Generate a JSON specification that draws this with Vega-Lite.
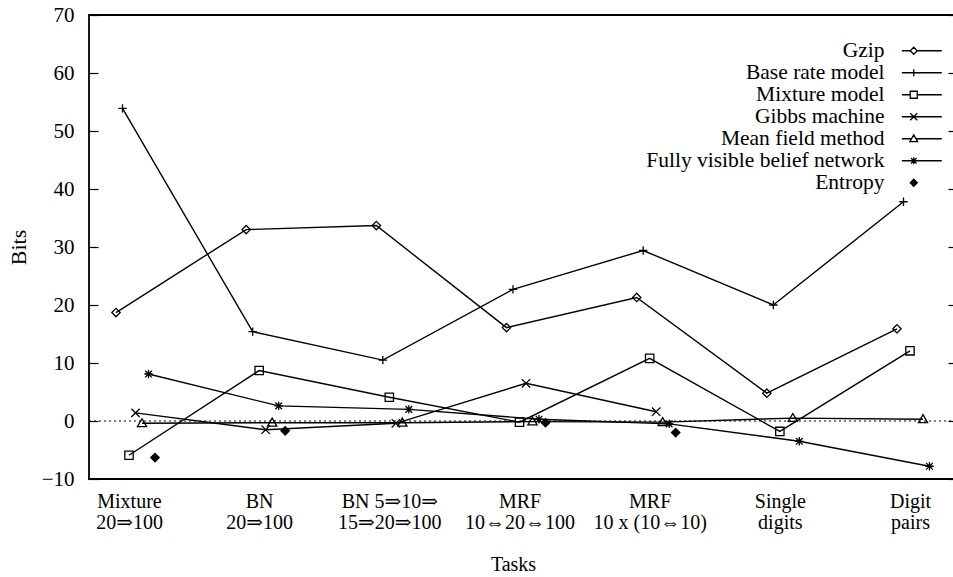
{
  "$schema": "https://vega.github.io/schema/vega-lite/v6.json",
  "width": 867,
  "height": 464,
  "autosize": {"type": "none"},
  "padding": {"left": 89, "top": 15, "right": 0, "bottom": 98},
  "background": "white",
  "config": {"view": {"stroke": "black", "strokeWidth": 1.8}, "font": "Liberation Serif"},
  "data": {"values": [
    {"series": "Gzip", "task": "Mixture\n20⇒100", "value": 18.7},
    {"series": "Gzip", "task": "BN\n20⇒100", "value": 33.0},
    {"series": "Gzip", "task": "BN 5⇒10⇒\n15⇒20⇒100", "value": 33.7},
    {"series": "Gzip", "task": "MRF\n10⇔20⇔100", "value": 16.1},
    {"series": "Gzip", "task": "MRF\n10 x (10⇔10)", "value": 21.3},
    {"series": "Gzip", "task": "Single\ndigits", "value": 4.8},
    {"series": "Gzip", "task": "Digit\npairs", "value": 15.9},
    {"series": "Base rate model", "task": "Mixture\n20⇒100", "value": 53.9},
    {"series": "Base rate model", "task": "BN\n20⇒100", "value": 15.4},
    {"series": "Base rate model", "task": "BN 5⇒10⇒\n15⇒20⇒100", "value": 10.5},
    {"series": "Base rate model", "task": "MRF\n10⇔20⇔100", "value": 22.7},
    {"series": "Base rate model", "task": "MRF\n10 x (10⇔10)", "value": 29.4},
    {"series": "Base rate model", "task": "Single\ndigits", "value": 20.0},
    {"series": "Base rate model", "task": "Digit\npairs", "value": 37.8},
    {"series": "Mixture model", "task": "Mixture\n20⇒100", "value": -5.9},
    {"series": "Mixture model", "task": "BN\n20⇒100", "value": 8.7},
    {"series": "Mixture model", "task": "BN 5⇒10⇒\n15⇒20⇒100", "value": 4.1},
    {"series": "Mixture model", "task": "MRF\n10⇔20⇔100", "value": -0.2},
    {"series": "Mixture model", "task": "MRF\n10 x (10⇔10)", "value": 10.8},
    {"series": "Mixture model", "task": "Single\ndigits", "value": -1.8},
    {"series": "Mixture model", "task": "Digit\npairs", "value": 12.1},
    {"series": "Gibbs machine", "task": "Mixture\n20⇒100", "value": 1.4},
    {"series": "Gibbs machine", "task": "BN\n20⇒100", "value": -1.5},
    {"series": "Gibbs machine", "task": "BN 5⇒10⇒\n15⇒20⇒100", "value": -0.4},
    {"series": "Gibbs machine", "task": "MRF\n10⇔20⇔100", "value": 6.5},
    {"series": "Gibbs machine", "task": "MRF\n10 x (10⇔10)", "value": 1.6},
    {"series": "Mean field method", "task": "Mixture\n20⇒100", "value": -0.4},
    {"series": "Mean field method", "task": "BN\n20⇒100", "value": -0.3},
    {"series": "Mean field method", "task": "BN 5⇒10⇒\n15⇒20⇒100", "value": -0.3},
    {"series": "Mean field method", "task": "MRF\n10⇔20⇔100", "value": -0.1},
    {"series": "Mean field method", "task": "MRF\n10 x (10⇔10)", "value": -0.2},
    {"series": "Mean field method", "task": "Single\ndigits", "value": 0.5},
    {"series": "Mean field method", "task": "Digit\npairs", "value": 0.3},
    {"series": "Fully visible belief network", "task": "Mixture\n20⇒100", "value": 8.1},
    {"series": "Fully visible belief network", "task": "BN\n20⇒100", "value": 2.6},
    {"series": "Fully visible belief network", "task": "BN 5⇒10⇒\n15⇒20⇒100", "value": 2.0},
    {"series": "Fully visible belief network", "task": "MRF\n10⇔20⇔100", "value": 0.3},
    {"series": "Fully visible belief network", "task": "MRF\n10 x (10⇔10)", "value": -0.5},
    {"series": "Fully visible belief network", "task": "Single\ndigits", "value": -3.5},
    {"series": "Fully visible belief network", "task": "Digit\npairs", "value": -7.8},
    {"series": "Entropy", "task": "Mixture\n20⇒100", "value": -6.3},
    {"series": "Entropy", "task": "BN\n20⇒100", "value": -1.7},
    {"series": "Entropy", "task": "MRF\n10⇔20⇔100", "value": -0.3},
    {"series": "Entropy", "task": "MRF\n10 x (10⇔10)", "value": -2.0}
  ]},
  "resolve": {"axis": {"y": "independent"}, "scale": {"shape": "independent"}, "legend": {"shape": "independent"}},
  "layer": [
    {
      "data": {"values": [{}]},
      "mark": {"type": "rule", "strokeDash": [2, 3], "color": "black", "strokeWidth": 1},
      "encoding": {
        "y": {"datum": 0, "type": "quantitative", "scale": {"domain": [-10, 70], "nice": false},
          "axis": {"orient": "right", "labels": false, "title": null, "domain": false, "grid": false,
            "values": [-10, 0, 10, 20, 30, 40, 50, 60, 70], "tickSize": -8, "tickColor": "black", "tickWidth": 1.2}}
      }
    },
    {
      "transform": [{"filter": "datum.series !== 'Entropy'"}],
      "mark": {"type": "line", "color": "black", "strokeWidth": 1.4},
      "encoding": {
        "x": {"field": "task", "type": "nominal", "sort": null,
          "scale": {"type": "point", "range": [40, 821], "padding": 0},
          "axis": {"title": "Tasks", "labelExpr": "split(datum.label, '\\n')", "ticks": false, "domain": false,
            "labelAngle": 0, "labelFontSize": 20, "labelLineHeight": 21, "labelPadding": 12, "labelBaseline": "top",
            "labelColor": "black", "labelOverlap": false, "labelLimit": 0, "labelFont": "Liberation Serif, DejaVu Serif",
            "titleFont": "Liberation Serif", "titleFontSize": 20, "titleFontWeight": "normal", "titleColor": "black",
            "titlePadding": 22, "titleX": 424}},
        "xOffset": {"field": "series", "type": "nominal",
          "sort": ["Gzip", "Base rate model", "Mixture model", "Gibbs machine", "Mean field method", "Fully visible belief network", "Entropy"],
          "scale": {"type": "point", "range": [-13, 26], "padding": 0}},
        "y": {"field": "value", "type": "quantitative", "scale": {"domain": [-10, 70], "nice": false},
          "axis": {"title": "Bits", "values": [-10, 0, 10, 20, 30, 40, 50, 60, 70], "tickSize": -9, "tickColor": "black",
            "tickWidth": 1.2, "domain": false, "grid": false, "labelFontSize": 21, "labelColor": "black", "labelPadding": 24,
            "labelFont": "Liberation Serif", "titleFont": "Liberation Serif", "titleFontSize": 22, "titleFontWeight": "normal",
            "titleColor": "black", "titlePadding": 11}},
        "detail": {"field": "series"},
        "order": {"value": null}
      }
    },
    {
      "mark": {"type": "point", "filled": false, "strokeWidth": 1.3, "size": 70, "color": "black", "opacity": 1},
      "encoding": {
        "x": {"field": "task", "type": "nominal", "sort": null,
          "scale": {"type": "point", "range": [40, 821], "padding": 0}},
        "xOffset": {"field": "series", "type": "nominal",
          "sort": ["Gzip", "Base rate model", "Mixture model", "Gibbs machine", "Mean field method", "Fully visible belief network", "Entropy"],
          "scale": {"type": "point", "range": [-13, 26], "padding": 0}},
        "y": {"field": "value", "type": "quantitative", "scale": {"domain": [-10, 70], "nice": false}, "axis": null},
        "fill": {"condition": {"test": "datum.series === 'Entropy'", "value": "black"}, "value": "transparent"},
        "shape": {"field": "series", "type": "nominal",
          "scale": {
            "domain": ["Gzip", "Base rate model", "Mixture model", "Gibbs machine", "Mean field method", "Fully visible belief network", "Entropy"],
            "range": [
              "M0,-1L1,0L0,1L-1,0Z",
              "M-1,0L1,0M0,-1L0,1",
              "M-1,-1L1,-1L1,1L-1,1Z",
              "M-1,-1L1,1M-1,1L1,-1",
              "M0,-1.1L1.1,0.8L-1.1,0.8Z",
              "M-1,0L1,0M0,-1L0,1M-0.8,-0.8L0.8,0.8M-0.8,0.8L0.8,-0.8",
              "M0,-1L1,0L0,1L-1,0Z"
            ]},
          "legend": null
        }
      }
    },
    {
      "transform": [{"filter": "false"}],
      "mark": {"type": "point", "filled": false, "strokeWidth": 1.3, "color": "black", "opacity": 1},
      "encoding": {
        "shape": {"field": "series", "type": "nominal",
          "scale": {
            "domain": ["Gzip", "Base rate model", "Mixture model", "Gibbs machine", "Mean field method", "Fully visible belief network", "Entropy"],
            "range": [
              "M-3.4,0L-1,0M1,0L8,0M0,-1L1,0L0,1L-1,0Z",
              "M-3.4,0L8,0M0,-1L0,1",
              "M-3.4,0L-1,0M1,0L8,0M-1,-1L1,-1L1,1L-1,1Z",
              "M-3.4,0L8,0M-1,-1L1,1M-1,1L1,-1",
              "M-3.4,0L-0.7,0M0.7,0L8,0M0,-1.1L1.1,0.8L-1.1,0.8Z",
              "M-3.4,0L8,0M0,-1L0,1M-0.8,-0.8L0.8,0.8M-0.8,0.8L0.8,-0.8",
              "M0,-1L1,0L0,1L-1,0ZM0,-0.65L0.65,0L0,0.65L-0.65,0ZM0,-0.3L0.3,0L0,0.3L-0.3,0Z"
            ]},
          "legend": {"orient": "none", "legendX": 814, "legendY": 25, "title": null, "labelAlign": "right",
            "labelOffset": -40, "labelFontSize": 21.5, "labelFont": "Liberation Serif", "labelColor": "black",
            "symbolSize": 49, "rowPadding": -1.5, "padding": 0, "labelLimit": 0,
            "symbolOpacity": 1, "symbolStrokeColor": "black", "symbolStrokeWidth": 1.3, "symbolFillColor": "transparent"}
        }
      }
    }
  ]
}
